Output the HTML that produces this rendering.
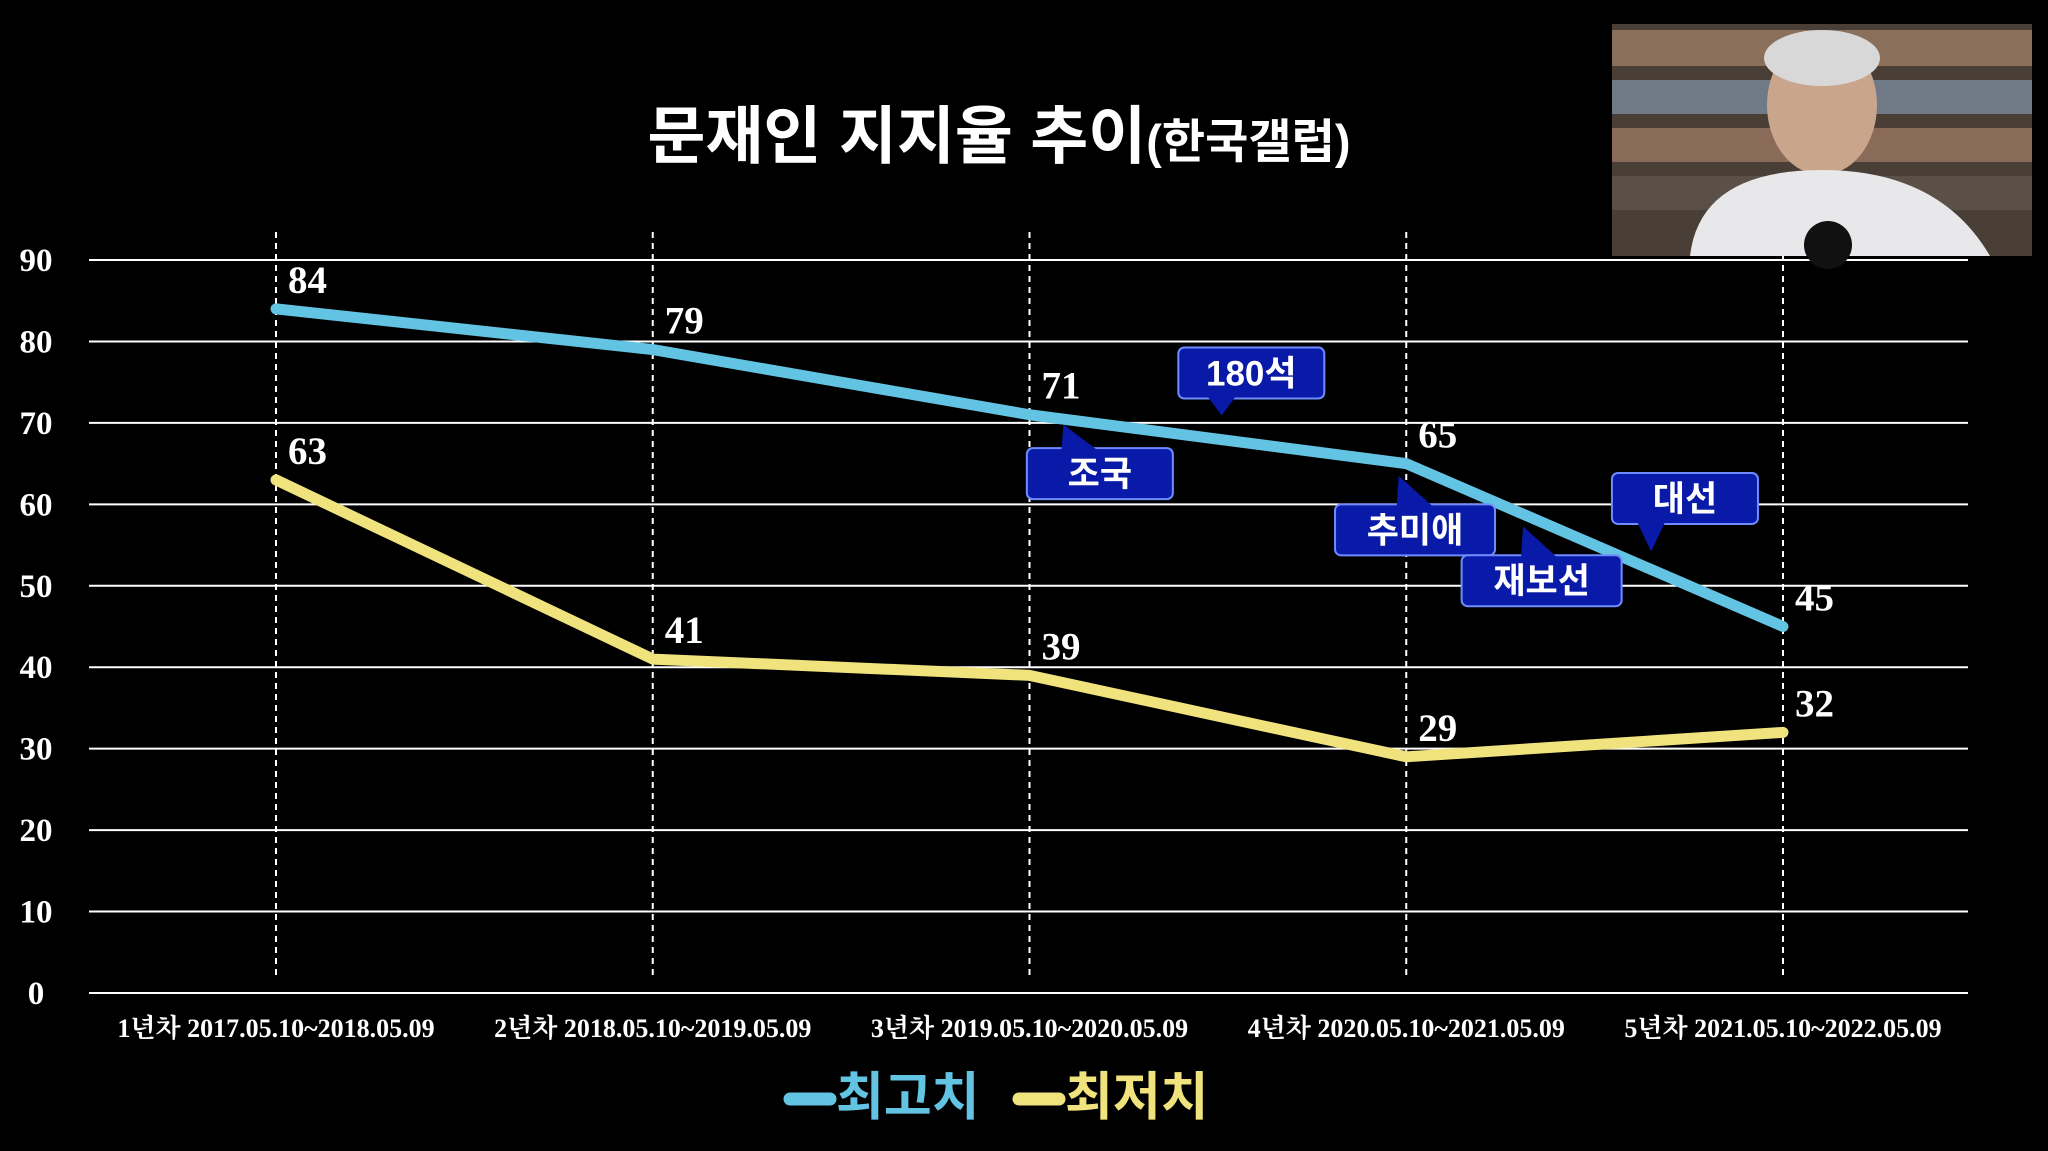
<!DOCTYPE html>
<html><head><meta charset="utf-8"><style>
html,body{margin:0;padding:0;background:#000;}
body{width:2048px;height:1151px;overflow:hidden;position:relative;}
svg{position:absolute;left:0;top:0;}
</style></head><body>
<svg width="2048" height="1151" xmlns="http://www.w3.org/2000/svg">
<rect x="0" y="0" width="2048" height="1151" fill="#000"/>
<text x="999" y="158" text-anchor="middle" fill="#fff" font-family="'Liberation Sans','Noto Sans CJK KR',sans-serif" font-weight="bold" font-size="63">문재인 지지율 추이<tspan font-size="47">(한국갤럽)</tspan></text>
<g id="grid"></g>
<g id="marks"></g>
<g id="notes"></g>
<g>
<rect x="1612" y="24" width="420" height="232" fill="#4a3f36"/>
<rect x="1612" y="30" width="420" height="36" fill="#8a6f5a"/>
<rect x="1612" y="80" width="420" height="34" fill="#6f7a86"/>
<rect x="1612" y="128" width="420" height="34" fill="#8a6a58"/>
<rect x="1612" y="176" width="420" height="34" fill="#5a5048"/>
<ellipse cx="1822" cy="105" rx="55" ry="70" fill="#c9a58c"/>
<ellipse cx="1822" cy="58" rx="58" ry="28" fill="#d8d8d8"/>
<path d="M1690 256 Q1700 170 1822 170 Q1940 170 1990 256 Z" fill="#e8e8ea"/>
<circle cx="1828" cy="245" r="24" fill="#111"/>
</g>
</svg>
<script>
const categories = ["1년차 2017.05.10~2018.05.09","2년차 2018.05.10~2019.05.09","3년차 2019.05.10~2020.05.09","4년차 2020.05.10~2021.05.09","5년차 2021.05.10~2022.05.09"];
const highValues = [84,79,71,65,45];
const lowValues = [63,41,39,29,32];
const yTicks = [0,10,20,30,40,50,60,70,80,90];
const legendLabels = ["최고치","최저치"];
const noteTexts = ["180석","조국","추미애","재보선","대선"];
const noteTipCat = [2.51,2.09,2.98,3.31,3.65];
const noteTipVal = [70.9,69.8,63.5,57.3,54.2];
const noteBoxCat = [2.395,1.993,2.811,3.147,3.546];
const noteBoxVal = [79.25,66.9,60.0,53.75,63.85];
const noteDir = ["down","up","up","up","down"];
const NS="http://www.w3.org/2000/svg";
const X0=276, X1=1783, Y0=993, Y90=260;
const xs=i=>X0+(X1-X0)*i/(categories.length-1);
const ys=v=>Y0-(Y0-Y90)*v/90;
function mk(tag,attrs,parent){const e=document.createElementNS(NS,tag);for(const k in attrs)e.setAttribute(k,attrs[k]);parent.appendChild(e);return e;}
const grid=document.getElementById('grid'), marks=document.getElementById('marks'), notesG=document.getElementById('notes');
const serif="'Liberation Serif','Noto Serif CJK KR',serif";
yTicks.forEach(t=>{
 const l=mk('line',{x1:89,x2:1968,y1:ys(t),y2:ys(t),stroke:'#fff','stroke-width':2},grid);
 
 
 const tx=mk('text',{x:36,y:ys(t)+11,'text-anchor':'middle',fill:'#fff','font-family':serif,'font-weight':'bold','font-size':33},grid);
 tx.textContent=t;
 
 
});
categories.forEach((c,i)=>{
 const l=mk('line',{x1:xs(i),x2:xs(i),y1:232,y2:980,stroke:'#fff','stroke-width':2,'stroke-dasharray':'6,5'},grid);
 
 
 const tx=mk('text',{x:xs(i),y:1037,'text-anchor':'middle',fill:'#fff','font-family':serif,'font-weight':'bold','font-size':26},grid);
 tx.textContent=c;
 
 
});
function series(vals,color,name){
 const p=mk('polyline',{points:vals.map((v,i)=>xs(i)+','+ys(v)).join(' '),fill:'none',stroke:color,'stroke-width':11,'stroke-linejoin':'round','stroke-linecap':'round'},marks);
 
 
 vals.forEach((v,i)=>{
  const t=mk('text',{x:xs(i)+12,y:ys(v)-16,fill:'#fff','font-family':serif,'font-weight':'bold','font-size':39},marks);
  t.textContent=v;
  
  
 });
}
series(highValues,'#62c3e3','high');
series(lowValues,'#f0e27c','low');
noteTexts.forEach((txt,k)=>{
 const w=txt.length===3?(txt==='180석'?144:160):146, h=51;
 const px=xs(noteTipCat[k]), py=ys(noteTipVal[k]);
 const bx=xs(noteBoxCat[k]), by=ys(noteBoxVal[k]);
 const g=mk('g',{},notesG);
 
 
 let tri;
 if(noteDir[k]==='down') tri=`${px-14},${by+h-2} ${px+14},${by+h-2} ${px},${py}`;
 else tri=`${px-2},${by+2} ${px+34},${by+2} ${px},${py}`;
 mk('rect',{x:bx,y:by,width:w,height:h,rx:6,fill:'#0a1aa8',stroke:'#6f8cff','stroke-width':2},g);
 mk('polygon',{points:tri,fill:'#0a1aa8'},g);
 const t=mk('text',{x:bx+w/2,y:by+38,'text-anchor':'middle',fill:'#fff','font-family':"'Liberation Sans','Noto Sans CJK KR',sans-serif",'font-weight':'bold','font-size':35},g);
 t.textContent=txt;
});
const lg=[{c:'#62c3e3',x:784},{c:'#f0e27c',x:1013}];
lg.forEach((o,i)=>{
 const g=mk('g',{},marks);
 
 
 mk('line',{x1:o.x+6,x2:o.x+46,y1:1099,y2:1099,stroke:o.c,'stroke-width':13,'stroke-linecap':'round'},g);
 const t=mk('text',{x:o.x+52,y:1115,fill:o.c,'font-family':"'Liberation Sans','Noto Sans CJK KR',sans-serif",'font-weight':'bold','font-size':52},g);
 t.textContent=legendLabels[i];
});
</script>
</body></html>
